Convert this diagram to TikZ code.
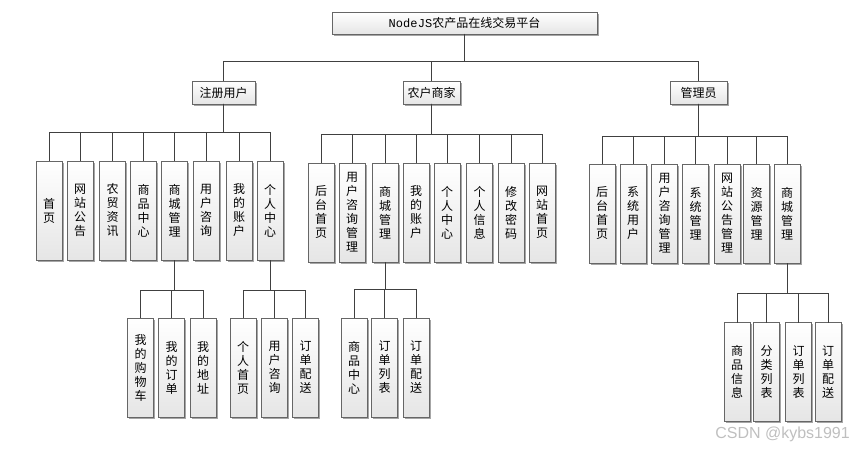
\documentclass[tikz,border=0pt]{standalone}
\usepackage{fontspec}
\newfontfamily\cjk{Noto Sans CJK SC}
\newfontfamily\monof{Liberation Mono}
\newfontfamily\wmfont{Liberation Sans}
\usetikzlibrary{shadows}
\tikzset{
  box/.style={draw=black!60, line width=0.9pt, top color=white, bottom color=black!10,
    inner sep=0pt, outer sep=0pt, align=center,
    font=\cjk\fontsize{12}{14}\selectfont,
    general shadow={fill=black!35, shadow xshift=1.6pt, shadow yshift=-1.6pt}},
  hbox/.style={box, minimum height=23pt},
  vbox/.style={box, minimum width=26pt, minimum height=99pt},
  conn/.style={draw=black!75, line width=0.95pt}
}
\begin{document}
\begin{tikzpicture}[x=1pt,y=-1pt]
\useasboundingbox (0,0) rectangle (854,449);
% root
\node[hbox, minimum width=265pt, minimum height=22pt] (root) at (464.5,23) {{\monof Node\kern0.5ptJS}农产品在线交易平台};
% level 1
\node[hbox, minimum width=63pt] (u) at (223.5,92.5) {注册用户};
\node[hbox, minimum width=57pt] (f) at (431.5,92.5) {农户商家};
\node[hbox, minimum width=57pt] (m) at (698.5,92.5) {管理员};
\foreach \c in {u,f,m} \draw[conn] (root.south) -- ++(0,27) -| (\c.north);
% level 2: user
\node[vbox] (u1) at (49,210.5) {首\\页};
\node[vbox] (u2) at (80,210.5) {网\\站\\公\\告};
\node[vbox] (u3) at (112.5,210.5) {农\\贸\\资\\讯};
\node[vbox] (u4) at (143.5,210.5) {商\\品\\中\\心};
\node[vbox] (u5) at (174.5,210.5) {商\\城\\管\\理};
\node[vbox] (u6) at (206,210.5) {用\\户\\咨\\询};
\node[vbox] (u7) at (239,210.5) {我\\的\\账\\户};
\node[vbox] (u8) at (270,210.5) {个\\人\\中\\心};
\foreach \c in {u1,u2,u3,u4,u5,u6,u7,u8} \draw[conn] (u.south) -- ++(0,28) -| (\c.north);
% level 2: farmer
\node[vbox] (f1) at (321,212.5) {后\\台\\首\\页};
\node[vbox] (f2) at (352,212.5) {用\\户\\咨\\询\\管\\理};
\node[vbox] (f3) at (385,212.5) {商\\城\\管\\理};
\node[vbox] (f4) at (416,212.5) {我\\的\\账\\户};
\node[vbox] (f5) at (447,212.5) {个\\人\\中\\心};
\node[vbox] (f6) at (479.5,212.5) {个\\人\\信\\息};
\node[vbox] (f7) at (511,212.5) {修\\改\\密\\码};
\node[vbox] (f8) at (542,212.5) {网\\站\\首\\页};
\foreach \c in {f1,f2,f3,f4,f5,f6,f7,f8} \draw[conn] (f.south) -- ++(0,30) -| (\c.north);
% level 2: manager
\node[vbox] (m1) at (602,213.5) {后\\台\\首\\页};
\node[vbox] (m2) at (633,213.5) {系\\统\\用\\户};
\node[vbox] (m3) at (664.5,213.5) {用\\户\\咨\\询\\管\\理};
\node[vbox] (m4) at (695.5,213.5) {系\\统\\管\\理};
\node[vbox] (m5) at (727,213.5) {网\\站\\公\\告\\管\\理};
\node[vbox] (m6) at (756.5,213.5) {资\\源\\管\\理};
\node[vbox] (m7) at (787,213.5) {商\\城\\管\\理};
\foreach \c in {m1,m2,m3,m4,m5,m6,m7} \draw[conn] (m.south) -- ++(0,32) -| (\c.north);
% level 3: user / shop
\node[vbox] (u51) at (140.5,367.5) {我\\的\\购\\物\\车};
\node[vbox] (u52) at (171.5,367.5) {我\\的\\订\\单};
\node[vbox] (u53) at (203,367.5) {我\\的\\地\\址};
\foreach \c in {u51,u52,u53} \draw[conn] (u5.south) -- ++(0,30) -| (\c.north);
% level 3: user / personal
\node[vbox] (u81) at (243,367.5) {个\\人\\首\\页};
\node[vbox] (u82) at (274.5,367.5) {用\\户\\咨\\询};
\node[vbox] (u83) at (305.5,367.5) {订\\单\\配\\送};
\foreach \c in {u81,u82,u83} \draw[conn] (u8.south) -- ++(0,30) -| (\c.north);
% level 3: farmer / shop
\node[vbox] (f31) at (354,367.5) {商\\品\\中\\心};
\node[vbox] (f32) at (384.5,367.5) {订\\单\\列\\表};
\node[vbox] (f33) at (416,367.5) {订\\单\\配\\送};
\foreach \c in {f31,f32,f33} \draw[conn] (f3.south) -- ++(0,27) -| (\c.north);
% level 3: manager / shop
\node[vbox] (m71) at (737,372) {商\\品\\信\\息};
\node[vbox] (m72) at (766.5,372) {分\\类\\列\\表};
\node[vbox] (m73) at (798.5,372) {订\\单\\列\\表};
\node[vbox] (m74) at (828,372) {订\\单\\配\\送};
\foreach \c in {m71,m72,m73,m74} \draw[conn] (m7.south) -- ++(0,30) -| (\c.north);
% watermark
\node[text=black!25, font=\wmfont\fontsize{16}{18}\selectfont, anchor=east, inner sep=0pt] (wm) at (850,434) {CSDN @kybs1991};
\end{tikzpicture}
\end{document}
